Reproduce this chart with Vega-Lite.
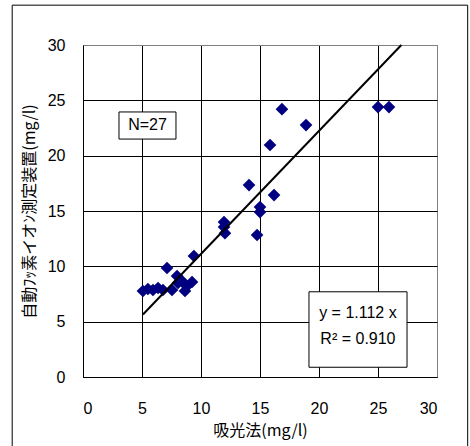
{
  "$schema": "https://vega.github.io/schema/vega-lite/v6.json",
  "autosize": {"type": "none"},
  "padding": {"left": 83, "top": 45, "right": 33, "bottom": 69},
  "width": 354,
  "height": 332,
  "background": "white",
  "config": {
    "view": {"stroke": "#808080", "strokeWidth": 1, "fill": "white"},
    "axis": {
      "labelFont": "Liberation Sans",
      "labelFontSize": 16,
      "labelColor": "black",
      "titleFont": "Noto Sans CJK JP",
      "titleFontSize": 16,
      "titleFontWeight": "normal",
      "titleColor": "black",
      "domainColor": "black",
      "domainWidth": 1,
      "ticks": false,
      "gridWidth": 1
    }
  },
  "datasets": {
    "points": [
      {"x": 5.08, "y": 7.77},
      {"x": 5.5, "y": 7.95},
      {"x": 5.93, "y": 7.86},
      {"x": 6.36, "y": 8.04},
      {"x": 6.78, "y": 7.86},
      {"x": 7.12, "y": 9.85},
      {"x": 7.54, "y": 7.86},
      {"x": 7.97, "y": 9.12},
      {"x": 8.05, "y": 8.5},
      {"x": 8.39, "y": 8.67},
      {"x": 8.64, "y": 7.77},
      {"x": 8.8, "y": 8.2},
      {"x": 9.24, "y": 8.58},
      {"x": 9.4, "y": 10.93},
      {"x": 11.95, "y": 14.0},
      {"x": 11.95, "y": 13.55},
      {"x": 12.03, "y": 13.0},
      {"x": 14.07, "y": 17.34},
      {"x": 14.75, "y": 12.83},
      {"x": 15.0, "y": 15.36},
      {"x": 15.0, "y": 14.9},
      {"x": 15.85, "y": 20.96},
      {"x": 16.19, "y": 16.44},
      {"x": 16.86, "y": 24.2},
      {"x": 18.9, "y": 22.76},
      {"x": 25.0, "y": 24.39},
      {"x": 25.93, "y": 24.39}
    ],
    "trend": [
      {"x": 5.08, "y": 5.65},
      {"x": 26.98, "y": 30}
    ],
    "notes": [
      {"label": "N=27", "x1": 3.05, "x2": 7.88, "y1": 21.5, "y2": 23.95, "tx": 5.47, "ty": 22.74}
    ],
    "eq": [
      {"x1": 19.15, "x2": 27.46, "y1": 0.88, "y2": 7.7}
    ],
    "eqlines": [
      {"label": "y = 1.112 x", "tx": 23.3, "ty": 5.81},
      {"label": "R² = 0.910", "tx": 23.3, "ty": 3.4}
    ]
  },
  "layer": [
    {
      "data": {"name": "points"},
      "mark": {"type": "point", "shape": "diamond", "filled": true, "color": "#000080", "size": 160, "opacity": 1},
      "encoding": {
        "x": {
          "field": "x", "type": "quantitative",
          "scale": {"domain": [0, 30], "nice": false, "zero": false},
          "axis": {
            "values": [0, 5, 10, 15, 20, 25, 30],
            "title": "吸光法(mg/l)",
            "labelPadding": 23,
            "titlePadding": 6,
            "grid": true,
            "gridColor": {"condition": {"test": "datum.value >= 30", "value": "#808080"}, "value": "black"}
          }
        },
        "y": {
          "field": "y", "type": "quantitative",
          "scale": {"domain": [0, 30], "nice": false, "zero": false},
          "axis": {
            "values": [0, 5, 10, 15, 20, 25, 30],
            "title": "自動ﾌｯ素イオﾝ測定装置(mg/l)",
            "labelPadding": 18,
            "titlePadding": 10,
            "grid": true,
            "gridColor": {"condition": {"test": "datum.value >= 30", "value": "#808080"}, "value": "black"}
          }
        }
      }
    },
    {
      "data": {"name": "trend"},
      "mark": {"type": "line", "color": "black", "strokeWidth": 2},
      "encoding": {
        "x": {"field": "x", "type": "quantitative"},
        "y": {"field": "y", "type": "quantitative"}
      }
    },
    {
      "data": {"name": "notes"},
      "mark": {"type": "rect", "fill": "white", "stroke": "black", "strokeWidth": 1},
      "encoding": {
        "x": {"field": "x1", "type": "quantitative"},
        "x2": {"field": "x2"},
        "y": {"field": "y1", "type": "quantitative"},
        "y2": {"field": "y2"}
      }
    },
    {
      "data": {"name": "notes"},
      "mark": {"type": "text", "font": "Liberation Sans", "fontSize": 16, "color": "black", "align": "center", "baseline": "middle"},
      "encoding": {
        "x": {"field": "tx", "type": "quantitative"},
        "y": {"field": "ty", "type": "quantitative"},
        "text": {"field": "label"}
      }
    },
    {
      "data": {"name": "eq"},
      "mark": {"type": "rect", "fill": "white", "stroke": "black", "strokeWidth": 1},
      "encoding": {
        "x": {"field": "x1", "type": "quantitative"},
        "x2": {"field": "x2"},
        "y": {"field": "y1", "type": "quantitative"},
        "y2": {"field": "y2"}
      }
    },
    {
      "data": {"name": "eqlines"},
      "mark": {"type": "text", "font": "Liberation Sans", "fontSize": 16, "color": "black", "align": "center", "baseline": "middle"},
      "encoding": {
        "x": {"field": "tx", "type": "quantitative"},
        "y": {"field": "ty", "type": "quantitative"},
        "text": {"field": "label"}
      }
    },
    {
      "data": {"values": [{}]},
      "mark": {"type": "rect", "fill": null, "fillOpacity": 0, "stroke": "black", "strokeWidth": 1, "clip": false},
      "encoding": {
        "x": {"datum": -6.0, "type": "quantitative"},
        "x2": {"datum": 32.6},
        "y": {"datum": 33.6, "type": "quantitative"},
        "y2": {"datum": -7}
      }
    }
  ]
}
